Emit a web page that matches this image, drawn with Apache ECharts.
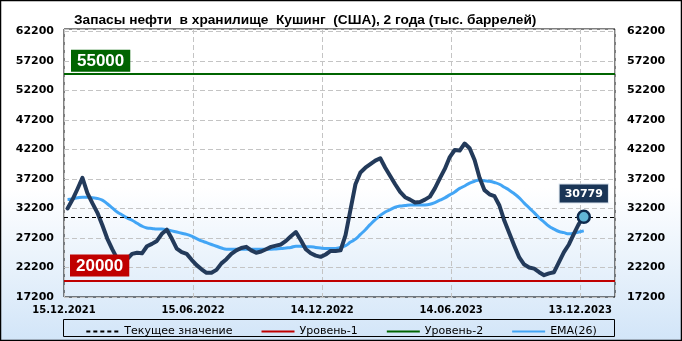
<!DOCTYPE html>
<html>
<head>
<meta charset="utf-8">
<script src="https://cdn.jsdelivr.net/npm/echarts@6/dist/echarts.min.js"></script>
<style>html,body{margin:0;padding:0;background:#fff}#c{width:682px;height:341px}</style>
</head>
<body>
<div id="c"></div>
<script>
const titleText = 'Запасы нефти  в хранилище  Кушинг  (США), 2 года (тыс. баррелей)';
const xLabels = ['15.12.2021', '15.06.2022', '14.12.2022', '14.06.2023', '13.12.2023'];
const axisStart = '2021-12-15';
const firstWeek = '2021-12-20';
const storage = [
  32200, 33700, 35500, 37400, 34800, 33100, 31500, 29400, 27100, 25300,
  23700, 22900, 23600, 24500, 24700, 24600, 25800, 26200, 26700, 27900,
  28600, 27100, 25400, 24800, 24500, 23500, 22600, 21900, 21300, 21300,
  21800, 22900, 23600, 24500, 25100, 25500, 25700, 25100, 24700, 24900,
  25300, 25700, 25900, 26100, 26700, 27500, 28200, 26800, 25300, 24600,
  24200, 24000, 24400, 25000, 25000, 25100, 27700, 32000, 36300, 38300,
  39100, 39700, 40300, 40700, 39100, 37700, 36300, 35000, 34100, 33700,
  33200, 33300, 33700, 34200, 35600, 37300, 38900, 40900, 42100, 42000,
  43200, 42400, 40400, 37400, 35300, 34600, 34300, 32700, 30100, 28000,
  25900, 23900, 22700, 22200, 22000, 21400, 20900, 21200, 21400, 23100,
  24800, 26100, 27900, 29600, 30779
];
const ema26 = [
  33700, 33800, 34000, 34100, 34100, 34000, 33900, 33600, 33000, 32300,
  31600, 31100, 30600, 30200, 29700, 29200, 28900, 28800, 28700, 28700,
  28600, 28400, 28200, 28000, 27800, 27500, 27100, 26700, 26400, 26100,
  25800, 25500, 25300, 25300, 25300, 25300, 25300, 25300, 25300, 25300,
  25300, 25300, 25350, 25400, 25500, 25600, 25800, 25800, 25700, 25700,
  25600, 25500, 25400, 25400, 25400, 25600, 25900, 26500, 27000, 27800,
  28600, 29500, 30300, 31000, 31600, 32000, 32400, 32600, 32700, 32800,
  32800, 32800, 32800, 32900, 33200, 33600, 34000, 34500, 35000, 35600,
  36000, 36500, 36800, 37000, 36900, 36800, 36600, 36300, 35800, 35300,
  34700, 34000, 33100, 32300, 31500, 30600, 29900, 29200, 28700, 28300,
  28100, 27900, 28000, 28200, 28400
];
const level1 = 20000;
const level2 = 55000;
const currentValue = storage[storage.length - 1];
const yTicks = { min: 17200, max: 62600, step: 5000 };
const xSpanDays = 777;
const xStepDays = 182;

const DAY = 86400000;
const t0 = Date.parse(axisStart + 'T00:00:00Z');
const tw = Date.parse(firstWeek + 'T00:00:00Z');
const dayPos = storage.map((_, i) => (tw + i * 7 * DAY - t0) / DAY);
const mainData = storage.map((v, i) => [dayPos[i], v]);
const emaData = ema26.map((v, i) => [dayPos[i], v]);
const lastPoint = mainData[mainData.length - 1];

const chart = echarts.init(document.getElementById('c'), null, { renderer: 'canvas' });
const yLabelStyle = { color: '#000', fontFamily: 'DejaVu Sans', fontWeight: 'bold', fontSize: 11, formatter: v => String(v) };
const gridLine = { show: true, lineStyle: { color: '#c4c4c4', type: [5, 3], width: 1 } };

chart.setOption({
  animation: false,
  backgroundColor: {
    type: 'linear', x: 0, y: 0, x2: 0, y2: 1,
    colorStops: [
      { offset: 0, color: '#ffffff' },
      { offset: 0.55, color: '#ffffff' },
      { offset: 1, color: '#d2e5f8' }
    ]
  },
  title: {
    text: titleText, left: 69, top: 8,
    textStyle: { fontFamily: 'Liberation Sans', fontWeight: 'bold', fontSize: 13.7, color: '#000' }
  },
  graphic: [
    { type: 'rect', shape: { x: 0.5, y: 0.5, width: 681, height: 340 }, style: { fill: 'none', stroke: '#000', lineWidth: 1.5 }, silent: true, z: 100 },
    { type: 'rect', shape: { x: 63.5, y: 319.5, width: 551, height: 17 }, style: { fill: 'none', stroke: '#000', lineWidth: 1 }, silent: true, z: 100 }
  ],
  legend: {
    left: 'center', top: 321, itemWidth: 33, itemHeight: 12, itemGap: 28,
    itemStyle: { opacity: 0 },
    textStyle: { fontFamily: 'DejaVu Sans', fontSize: 11, color: '#000' },
    data: ['Текущее значение', 'Уровень-1', 'Уровень-2', 'EMA(26)']
  },
  grid: { left: 64, right: 67, top: 29, bottom: 44, show: true, borderColor: '#000', borderWidth: 1, backgroundColor: 'transparent' },
  xAxis: {
    type: 'value', min: 0, max: xSpanDays, interval: xStepDays,
    axisLine: { show: false }, axisTick: { show: false },
    splitLine: gridLine,
    axisLabel: {
      showMinLabel: true, showMaxLabel: false, margin: 8,
      color: '#000', fontFamily: 'DejaVu Sans', fontWeight: 'bold', fontSize: 10,
      formatter: v => (v % xStepDays === 0 && xLabels[v / xStepDays]) ? xLabels[v / xStepDays] : ''
    }
  },
  yAxis: [
    {
      type: 'value', min: yTicks.min, max: yTicks.max, interval: yTicks.step,
      axisLine: { show: false }, axisTick: { show: false }, splitLine: gridLine,
      axisLabel: Object.assign({ margin: 10, showMaxLabel: false, showMinLabel: true }, yLabelStyle)
    },
    {
      type: 'value', min: yTicks.min, max: yTicks.max, interval: yTicks.step, position: 'right',
      axisLine: { show: false }, axisTick: { show: false }, splitLine: { show: false },
      axisLabel: Object.assign({ margin: 12, showMaxLabel: false, showMinLabel: true }, yLabelStyle)
    }
  ],
  series: [
    {
      name: 'Текущее значение', type: 'line', data: [], symbol: 'none', z: 1,
      lineStyle: { color: '#000', width: 1, type: [4, 3] }, itemStyle: { color: '#000' },
      markLine: {
        silent: true, symbol: ['none', 'none'], label: { show: false },
        lineStyle: { color: '#000', width: 1, type: [4, 3] },
        data: [{ yAxis: currentValue }]
      }
    },
    {
      name: 'Уровень-1', type: 'line', data: [], symbol: 'none', z: 5,
      lineStyle: { color: '#c00000', width: 2.5 }, itemStyle: { color: '#c00000' },
      markLine: {
        silent: true, symbol: ['none', 'none'],
        lineStyle: { color: '#c00000', width: 2, type: 'solid' },
        label: {
          show: true, position: 'insideStartTop', distance: [6, 4], formatter: String(level1),
          color: '#fff', fontFamily: 'Liberation Sans', fontWeight: 'bold', fontSize: 17, lineHeight: 19,
          backgroundColor: '#c00000', padding: [2, 6, 1, 6]
        },
        data: [{ yAxis: level1 }]
      }
    },
    {
      name: 'Уровень-2', type: 'line', data: [], symbol: 'none', z: 5,
      lineStyle: { color: '#006400', width: 2.5 }, itemStyle: { color: '#006400' },
      markLine: {
        silent: true, symbol: ['none', 'none'],
        lineStyle: { color: '#006400', width: 2, type: 'solid' },
        label: {
          show: true, position: 'insideStartTop', distance: [7, 2], formatter: String(level2),
          color: '#fff', fontFamily: 'Liberation Sans', fontWeight: 'bold', fontSize: 17, lineHeight: 19,
          backgroundColor: '#006400', padding: [2, 6, 1, 6]
        },
        data: [{ yAxis: level2 }]
      }
    },
    {
      name: 'EMA(26)', type: 'line', data: emaData, symbol: 'none', smooth: true, z: 2,
      lineStyle: { color: '#42a5f5', width: 3 }, itemStyle: { color: '#42a5f5' }
    },
    {
      name: 'Запасы', type: 'line', data: mainData, symbol: 'none', z: 3,
      lineStyle: { color: '#233a5a', width: 4, join: 'round', cap: 'round' }, itemStyle: { color: '#233a5a' },
      markPoint: {
        silent: true, symbol: 'circle', symbolSize: 12,
        itemStyle: { color: '#62b6d6', borderColor: '#0f2b4e', borderWidth: 2.5 },
        label: {
          show: true, position: 'top', distance: 7, formatter: String(currentValue),
          color: '#fff', fontFamily: 'DejaVu Sans', fontWeight: 'bold', fontSize: 11, lineHeight: 13,
          backgroundColor: '#1a3556', borderColor: '#d8e2ec', borderWidth: 1, padding: [3, 5, 2, 5]
        },
        data: [{ coord: lastPoint }]
      }
    }
  ]
});
</script>
</body>
</html>
